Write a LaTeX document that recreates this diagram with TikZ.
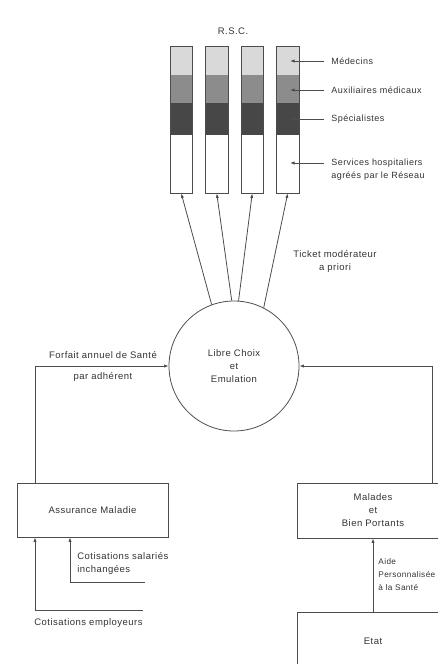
\documentclass[tikz,border=0pt]{standalone}
\usepackage{fontspec}
\setmainfont{Liberation Sans}[LetterSpace=5]
\usetikzlibrary{arrows.meta,calc}
\begin{document}
\begin{tikzpicture}[x=1pt,y=-1pt,
  line width=0.8pt,
  every node/.style={font=\fontsize{9.5}{13}\selectfont, text=black!80},
  wire/.style={draw=black!70},
  arr/.style={wire,-{Latex[length=4.5pt,width=3.2pt]}},
  colbox/.style={draw=black!70, minimum width=22.5pt, minimum height=147pt, inner sep=0pt},
  boxnode/.style={draw=black!70, rectangle, inner sep=0pt},
  lbl/.style={anchor=west, inner sep=1pt, align=left},
  edgelbl/.style={lbl, font=\fontsize{9}{13}\selectfont}
]
\useasboundingbox (0,0) rectangle (438,664);

% network columns: four practitioners' stacks
\foreach \i/\x in {1/170, 2/205.5, 3/241, 4/276.5} {
  \fill[black!15] (\x,46) rectangle ++(22.5,29);
  \fill[black!45] (\x,75) rectangle ++(22.5,28);
  \fill[black!72] (\x,103) rectangle ++(22.5,32);
  \node[colbox] (c\i) at (\x+11.25,119.5) {};
}
\node (rsc) at (233,31) {R.S.C.};

% legend of the segments
\node[edgelbl] (lmed) at (330,61) {Médecins};
\node[edgelbl] (laux) at (330,90) {Auxiliaires médicaux};
\node[edgelbl] (lspe) at (330,119) {Spécialistes};
\node[edgelbl] (lser) at (330,170) {Services hospitaliers\\agréés par le Réseau};
\coordinate (pmed) at (290,61);
\coordinate (paux) at (290,90);
\coordinate (pspe) at (290,119);
\coordinate (pser) at (290,163);
\draw[arr] (lmed.west) ++(-6,0) -- (pmed);
\draw[arr] (laux.west) ++(-6,0) -- (paux);
\draw[arr] (lspe.west) ++(-6,0) -- (pspe);
\draw[arr] (lser.west |- pser) ++(-6,0) -- (pser);

% central choice
\node[draw=black!70, circle, minimum size=130pt, inner sep=0pt, align=center] (circ) at (234,366) {Libre Choix\\et\\Emulation};
\draw[arr] (circ.110) -- (c1.south);
\draw[arr] (circ.92) -- (c2.south);
\draw[arr] (circ.86) -- (c3.south);
\draw[arr] (circ.63) -- (c4.south);
\node[align=center] (tic) at (335,261.5) {Ticket modérateur\\a priori};

% funding side
\node[boxnode, minimum width=151pt, minimum height=54pt] (am) at (92.5,510) {Assurance Maladie};
\coordinate (lt) at (35,366);
\draw[arr] (am.north -| lt) -- (lt) -- (circ.west);
\node (ff1) at (103,355) {Forfait annuel de Santé};
\node (ff2) at (103,377) {par adhérent};

\coordinate (cs) at (70,582);
\coordinate (cse) at (145,582);
\draw[arr] (cse) -- (cs) -- (am.south -| cs);
\node[lbl] (lcs) at (76,563) {Cotisations salariés\\inchangées};
\coordinate (ce) at (35,610);
\coordinate (cee) at (143,610);
\draw[arr] (cee) -- (ce) -- (am.south -| ce);
\node[lbl] (lce) at (33,623) {Cotisations employeurs};

% patients side
\node[boxnode, minimum width=152pt, minimum height=55pt, align=center] (mal) at (373,510.5) {Malades\\et\\Bien Portants};
\coordinate (rt) at (432,366);
\draw[arr] (mal.north -| rt) -- (rt) -- (circ.east);
\node[boxnode, minimum width=152pt, minimum height=58pt] (etat) at (373,641) {Etat};
\draw[arr] (etat.north) -- (mal.south);
\node[lbl, font=\fontsize{8.2}{13}\selectfont] (aps) at (377,575) {Aide\\Personnalisée\\à la Santé};
\end{tikzpicture}
\end{document}
